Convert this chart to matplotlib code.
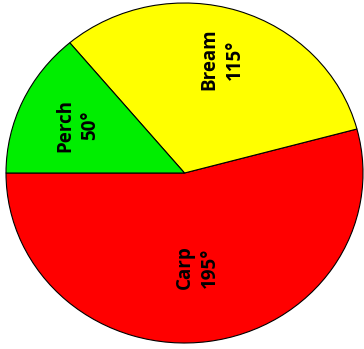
import numpy as np
import matplotlib
matplotlib.use("Agg")
from matplotlib import pyplot

fish = ["Carp", "Bream", "Perch"]
angles = [195, 115, 50]
colours = ["#ff0000", "#ffff00", "#00ee00"]
label_dist = [0.56, 0.70, 0.66]

fig = pyplot.figure(figsize=(3.64, 3.49), dpi=100)
ax = fig.add_axes([6 / 364, 6 / 349, 357 / 364, 340 / 349])

wedges, _ = ax.pie(angles, colors=colours, startangle=180, counterclock=True,
                   wedgeprops=dict(edgecolor="black", linewidth=0.8))

start = 180
for name, ang, d in zip(fish, angles, label_dist):
    mid = np.radians(start + ang / 2)
    ax.text(d * np.cos(mid), d * np.sin(mid), f"{name}\n{ang}°", rotation=90,
            ha="center", va="center", fontsize=13.5, fontweight="bold",
            family=["Open Sans", "DejaVu Sans"], linespacing=1.35)
    start += ang

ax.set_aspect("auto")
ax.set_xlim(-1, 1)
ax.set_ylim(-1, 1)
ax.axis("off")
fig.savefig("out.png")
